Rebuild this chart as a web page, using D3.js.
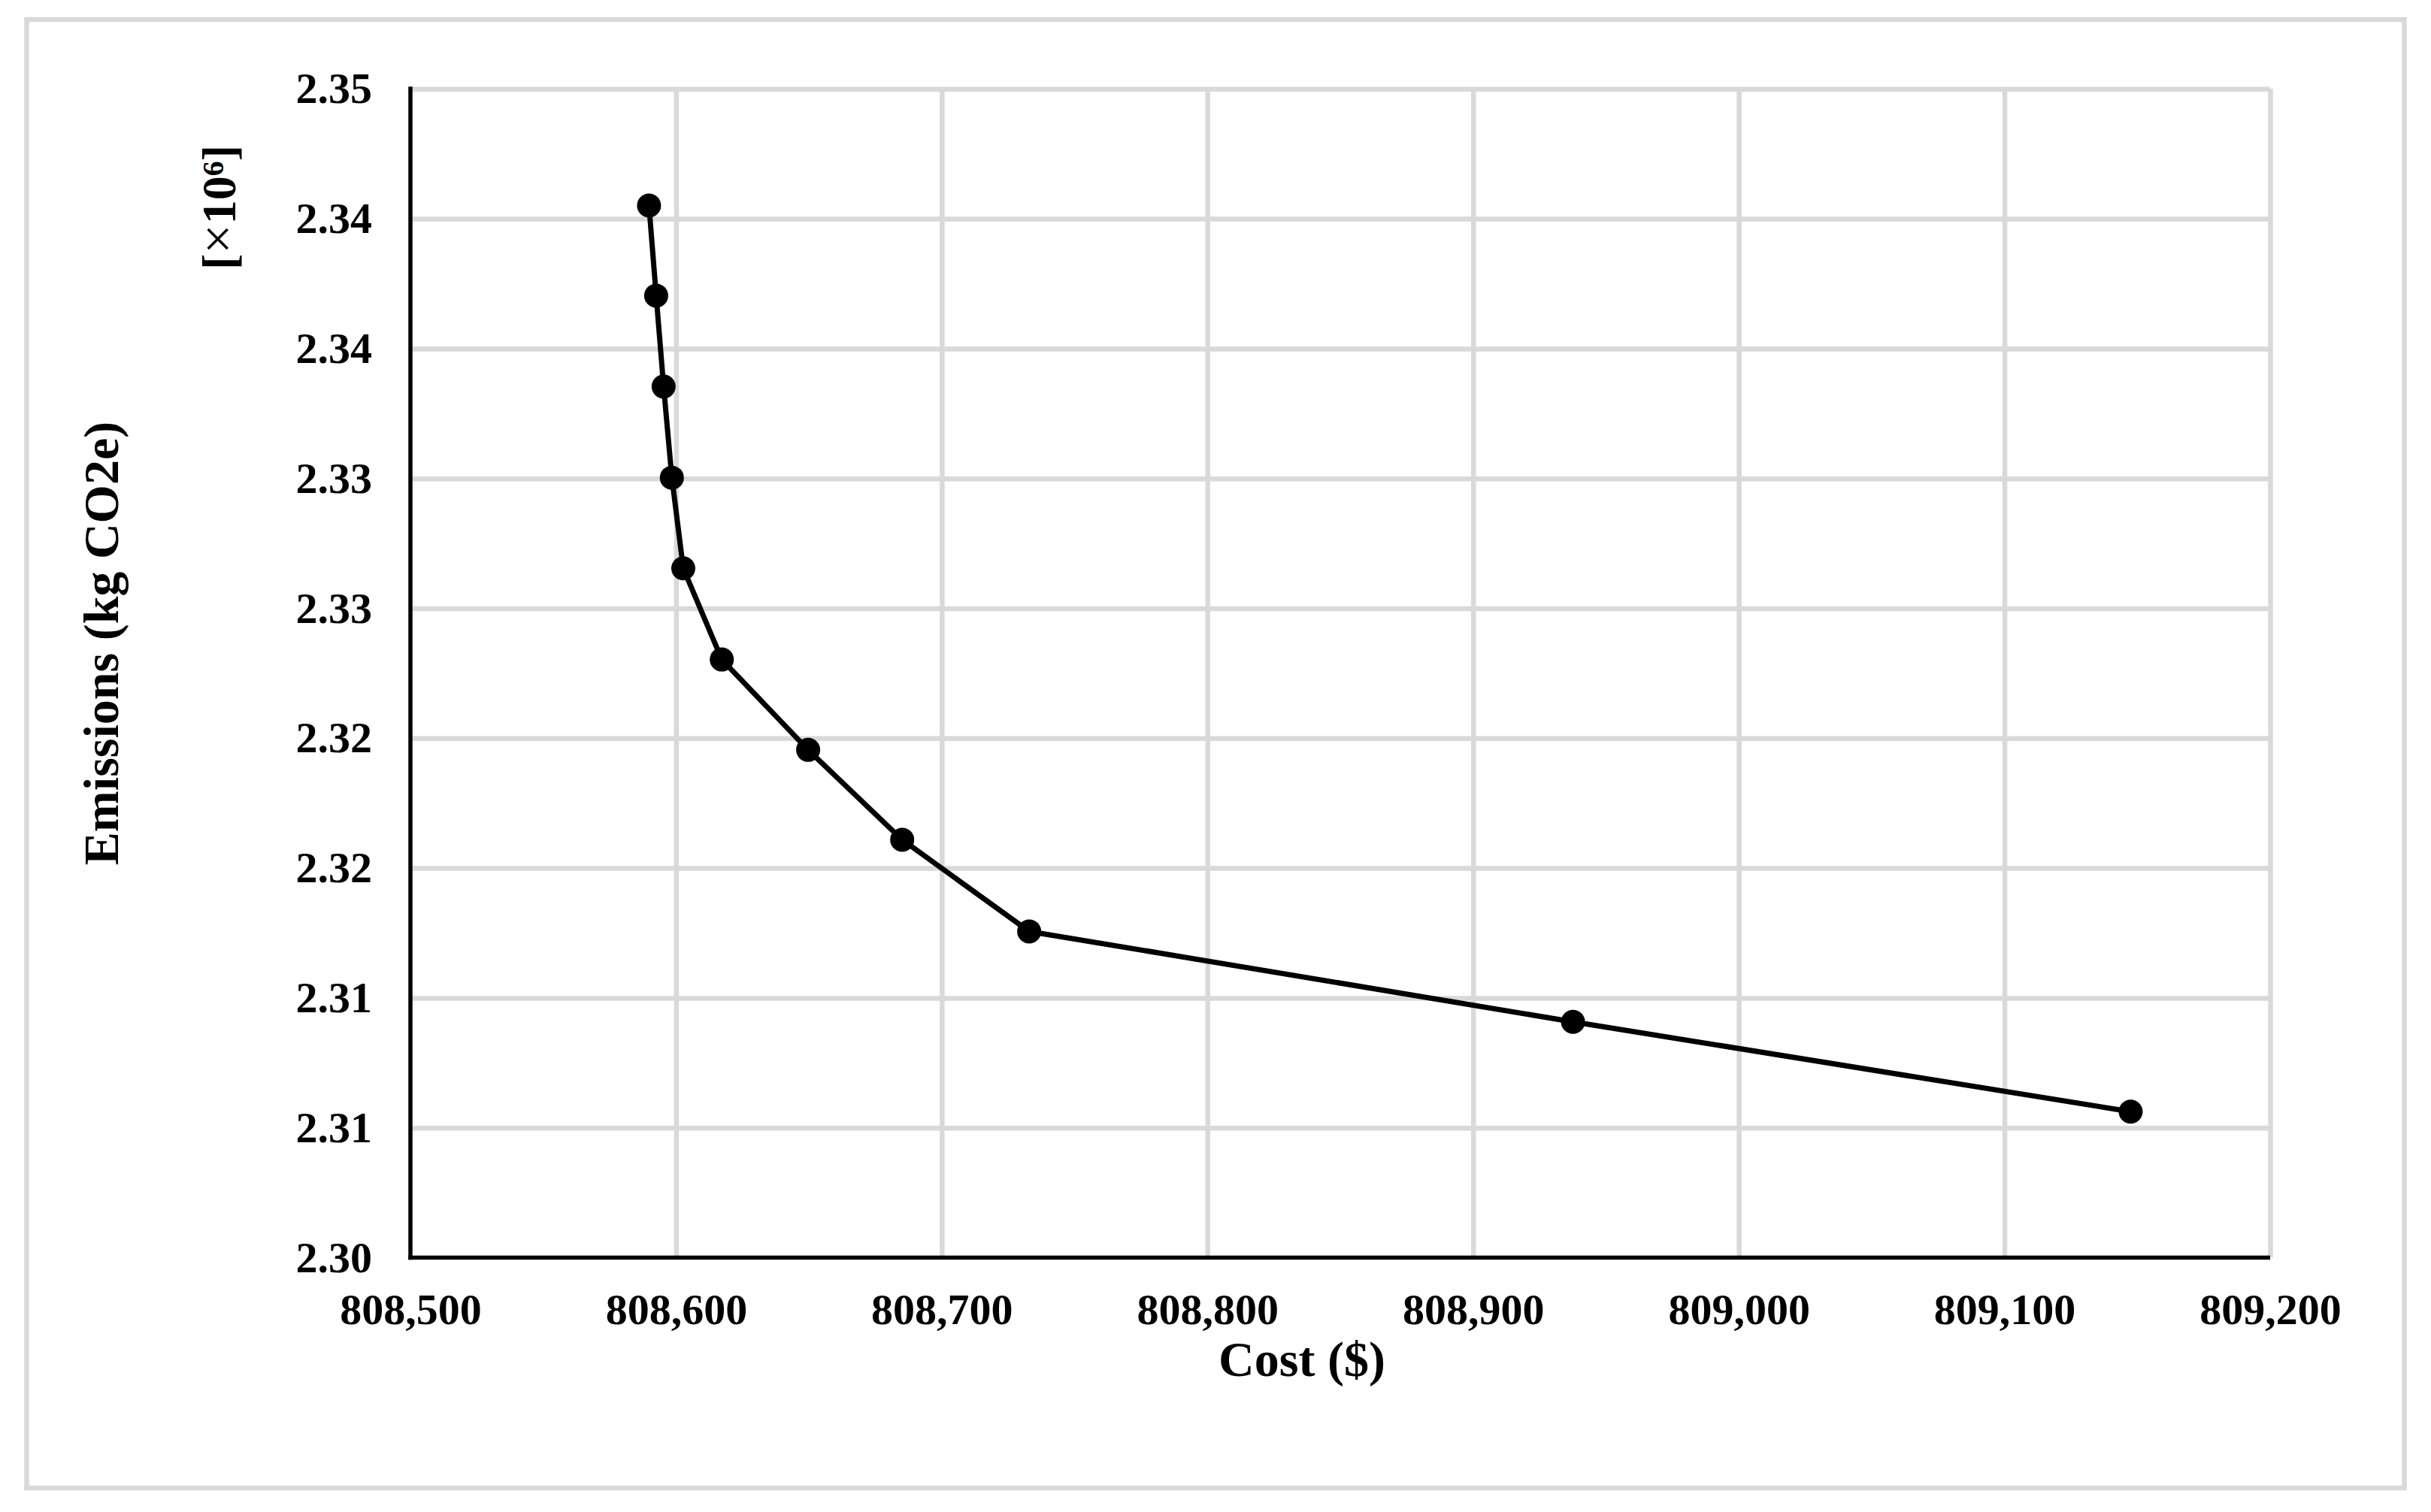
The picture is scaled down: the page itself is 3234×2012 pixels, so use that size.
<!DOCTYPE html>
<html>
<head>
<meta charset="utf-8">
<script src="https://cdn.jsdelivr.net/npm/d3@7"></script>
<style>
  body { margin: 0; background: #fff; }
  svg text { font-family: "Liberation Serif", "Times New Roman", serif; }
</style>
</head>
<body>
<div id="chart"></div>
<script>
// Pareto front: cost vs emissions (emissions in 10^6 kg CO2e)
var cost = [808589.8, 808592.5, 808595.3, 808598.4, 808602.7, 808617.2,
            808649.7, 808685.1, 808732.9, 808937.6, 809147.5];
var emissions = [2.34051, 2.33704, 2.33354, 2.33003, 2.32654, 2.32303,
                 2.31955, 2.31609, 2.31256, 2.30908, 2.30562];

var xTicks = [808500, 808600, 808700, 808800, 808900, 809000, 809100, 809200];
var yTicks = [2.300, 2.305, 2.310, 2.315, 2.320, 2.325, 2.330, 2.335, 2.340, 2.345];
var yTickLabels = ["2.30", "2.31", "2.31", "2.32", "2.32", "2.33", "2.33", "2.34", "2.34", "2.35"];

var W = 3234, H = 2012;
var plot = {left: 546, right: 3020, top: 118.3, bottom: 1673.5};

var svg = d3.select("#chart").append("svg")
    .attr("width", W)
    .attr("height", H);

// chart area border
svg.append("rect")
    .attr("x", 35.5).attr("y", 26)
    .attr("width", 3163).attr("height", 1954)
    .attr("fill", "#fff")
    .attr("stroke", "#d9d9d9")
    .attr("stroke-width", 6.5);

var x = d3.scaleLinear().domain([808500, 809200]).range([plot.left, plot.right]);
var y = d3.scaleLinear().domain([2.300, 2.345]).range([plot.bottom, plot.top]);

// gridlines
svg.append("g")
    .attr("class", "grid")
    .attr("transform", "translate(0," + plot.bottom + ")")
    .call(d3.axisBottom(x).tickValues(xTicks.slice(1)).tickSize(-(plot.bottom - plot.top)).tickFormat(""))
    .call(function(g) { g.select(".domain").remove(); })
    .selectAll("line").attr("stroke", "#d9d9d9").attr("stroke-width", 6.5);

svg.append("g")
    .attr("class", "grid")
    .attr("transform", "translate(" + plot.left + ",0)")
    .call(d3.axisLeft(y).tickValues(yTicks.slice(1)).tickSize(-(plot.right - plot.left)).tickFormat(""))
    .call(function(g) { g.select(".domain").remove(); })
    .selectAll("line").attr("stroke", "#d9d9d9").attr("stroke-width", 6.5);

// axes (labels only, lines drawn below)
var xAxis = svg.append("g")
    .attr("transform", "translate(0," + plot.bottom + ")")
    .call(d3.axisBottom(x).tickValues(xTicks).tickSize(0).tickPadding(47.5).tickFormat(d3.format(",")));
xAxis.select(".domain").remove();
xAxis.selectAll("text")
    .style("font-size", "58px").style("font-weight", "bold").attr("fill", "#000");

var yAxis = svg.append("g")
    .attr("transform", "translate(" + plot.left + ",0)")
    .call(d3.axisLeft(y).tickValues(yTicks).tickSize(0).tickPadding(51)
        .tickFormat(function(d, i) { return yTickLabels[i]; }));
yAxis.select(".domain").remove();
yAxis.selectAll("text")
    .style("font-size", "58px").style("font-weight", "bold").attr("fill", "#000");

// axis lines
svg.append("line")
    .attr("x1", plot.left).attr("x2", plot.left)
    .attr("y1", plot.top - 3).attr("y2", plot.bottom + 2.75)
    .attr("stroke", "#000").attr("stroke-width", 5.5);
svg.append("line")
    .attr("x1", plot.left - 2.75).attr("x2", plot.right)
    .attr("y1", plot.bottom).attr("y2", plot.bottom)
    .attr("stroke", "#000").attr("stroke-width", 5.5);

// series
var data = cost.map(function(c, i) { return {cost: c, em: emissions[i]}; });

var line = d3.line()
    .x(function(d) { return x(d.cost); })
    .y(function(d) { return y(d.em); });

svg.append("path")
    .datum(data)
    .attr("d", line)
    .attr("fill", "none")
    .attr("stroke", "#000")
    .attr("stroke-width", 7)
    .attr("stroke-linejoin", "round");

svg.selectAll(".dot")
    .data(data)
    .enter().append("circle")
    .attr("class", "dot")
    .attr("cx", function(d) { return x(d.cost); })
    .attr("cy", function(d) { return y(d.em); })
    .attr("r", 16)
    .attr("fill", "#000");

// titles
svg.append("text")
    .attr("x", 1732).attr("y", 1831)
    .attr("text-anchor", "middle")
    .style("font-size", "66px").style("font-weight", "bold")
    .text("Cost ($)");

svg.append("text")
    .attr("transform", "translate(157,856) rotate(-90)")
    .attr("text-anchor", "middle")
    .style("font-size", "66px").style("font-weight", "bold")
    .text("Emissions (kg CO2e)");

var mult = svg.append("text")
    .attr("transform", "translate(313,276) rotate(-90)")
    .attr("text-anchor", "middle")
    .style("font-size", "64px").style("font-weight", "bold");
mult.append("tspan").text("[");
mult.append("tspan").style("font-weight", "normal").style("font-size", "70px").text("\u00d7");
mult.append("tspan").text("10");
mult.append("tspan").attr("dy", "-0.4em").style("font-size", "40px").text("6");
mult.append("tspan").attr("dy", "0.25em").text("]");
</script>
</body>
</html>
